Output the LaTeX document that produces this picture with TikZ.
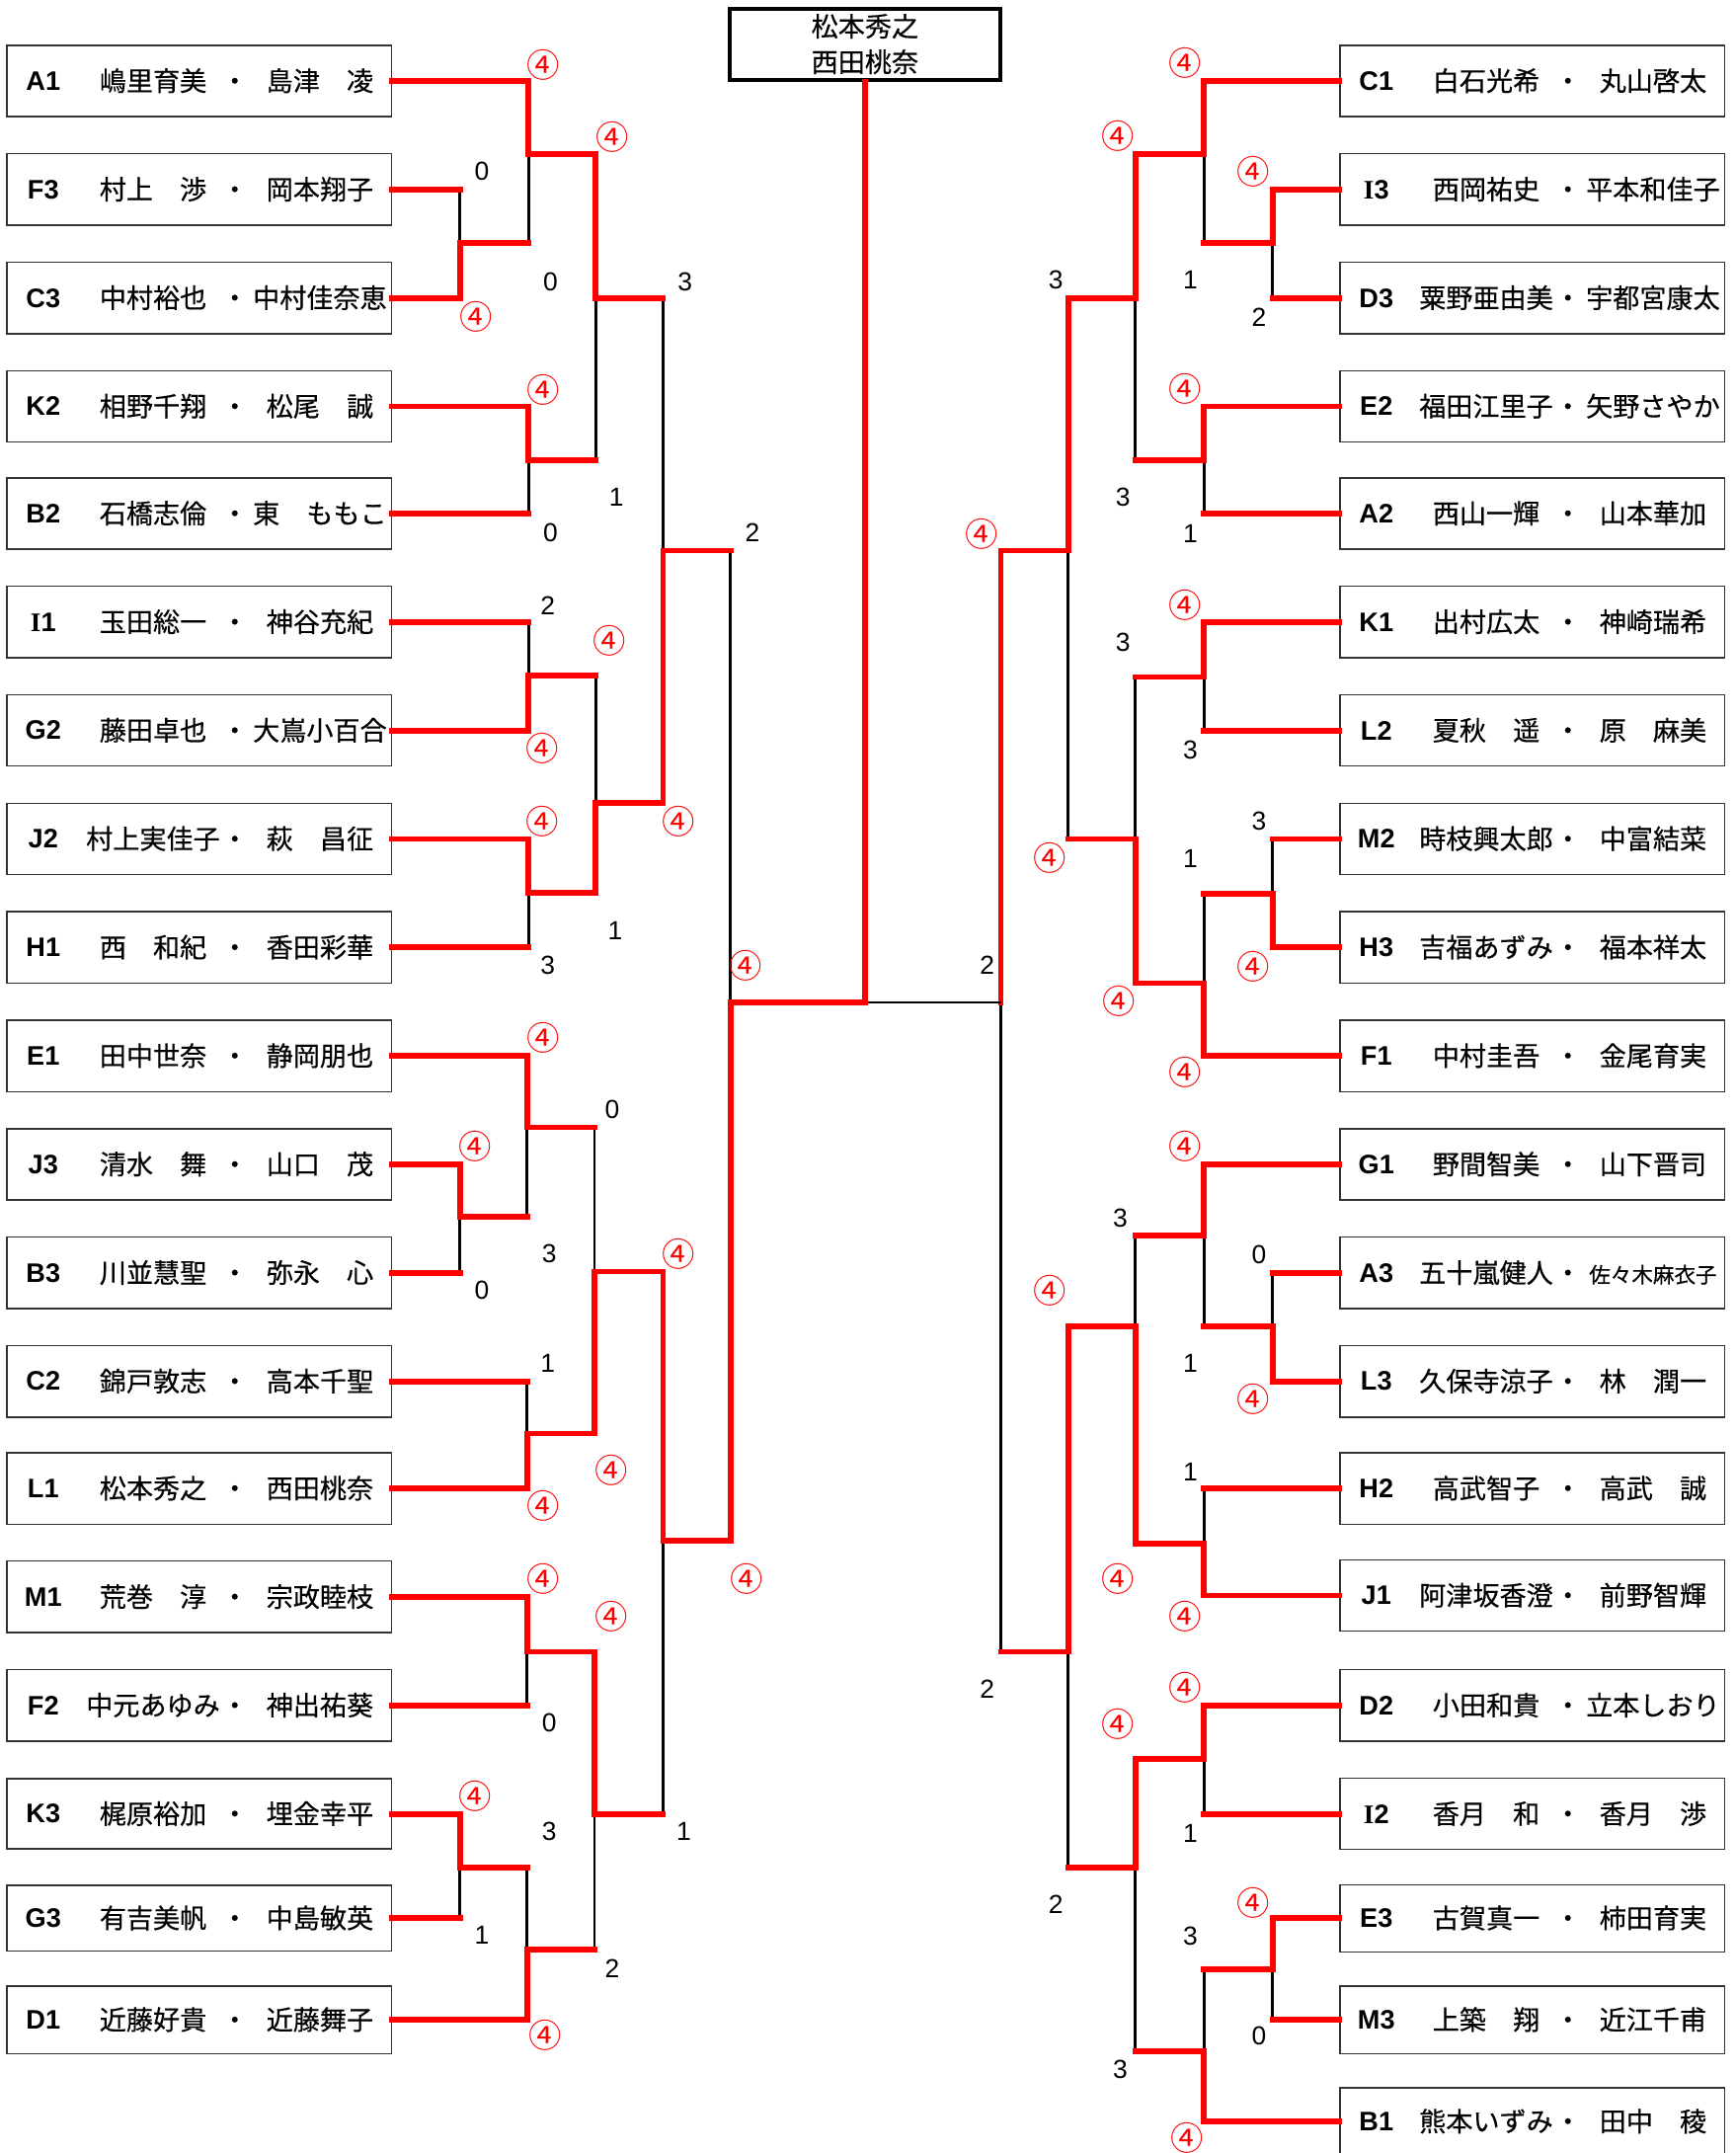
\documentclass[tikz,border=0pt]{standalone}
\usepackage{fontspec}
\newfontfamily\jp[FakeBold=0.4]{Noto Sans CJK JP}
\newfontfamily\jpw{Noto Sans CJK JP}
\newfontfamily\lat{Liberation Sans}
\newfontfamily\latser{Liberation Serif}
\newcommand\Ic{{\latser I}}
\tikzset{
 pbox/.style={draw=black!80, line width=1pt, minimum width=280pt, inner sep=0pt},
 topbox/.style={draw=black, line width=3pt, minimum width=197pt, minimum height=52pt, inner sep=0pt},
 codef/.style={inner sep=0pt, font=\lat\bfseries\fontsize{19.5}{19.5}\selectfont},
 namef/.style={inner sep=0pt, anchor=base, font=\jp\fontsize{19.5}{19.5}\selectfont},
 scoref/.style={inner sep=0pt, font=\lat\fontsize{19}{19}\selectfont},
 winf/.style={inner sep=0pt, text=red, font=\jpw\fontsize{24}{24}\selectfont},
 rl/.style={draw=red, line width=4.2pt, line cap=rect},
 blk/.style={draw=black, line width=2pt},
}
\newcommand\entry[6]{%
  \node[pbox, minimum height=#3] (#1) at #2 {};
  \node[codef] (#1c) at ([xshift=-113.5pt]#1.center) {#4};
  \node[namef] (#1n) at ([xshift=-33.5pt,yshift=-7.2pt]#1.center) {#5};
  \node[namef] (#1d) at ([xshift=26pt,yshift=-7.2pt]#1.center) {・};
  \node[namef] (#1m) at ([xshift=88pt,yshift=-7.2pt]#1.center) {#6};
}
% top wins
\newcommand\mtop[5]{%
  \coordinate (#3) at (#4,#5);
  \draw[blk] (#3) -- (#3 |- #2);
  \draw[rl] (#2) -- (#3 |- #2);
  \draw[rl] (#1) -| (#3);
}
% bottom wins
\newcommand\mbot[5]{%
  \coordinate (#3) at (#4,#5);
  \draw[blk] (#3) -- (#3 |- #1);
  \draw[rl] (#1) -- (#3 |- #1);
  \draw[rl] (#2) -| (#3);
}
\newcommand\scorelab[4]{\node[scoref] (#1) at (#2,#3) {#4};}
\newcommand\winlab[3]{\node[winf] (#1) at (#2,#3) {④};}
\begin{document}
\begin{tikzpicture}[x=1pt,y=-1pt]
\fill[white] (0,0) rectangle (1264,1568);
\clip (0,0) rectangle (1264,1568);
% ---------- left entries ----------
\entry{A1}{(145,59)}{52pt}{A1}{嶋里育美}{島津　凌}
\entry{F3}{(145,138)}{52pt}{F3}{村上　渉}{岡本翔子}
\entry{C3}{(145,217)}{52pt}{C3}{中村裕也}{中村佳奈恵}
\entry{K2}{(145,296)}{52pt}{K2}{相野千翔}{松尾　誠}
\entry{B2}{(145,374)}{52pt}{B2}{石橋志倫}{東　ももこ}
\entry{I1}{(145,453)}{52pt}{\Ic 1}{玉田総一}{神谷充紀}
\entry{G2}{(145,532)}{52pt}{G2}{藤田卓也}{大嶌小百合}
\entry{J2}{(145,611)}{52pt}{J2}{村上実佳子}{萩　昌征}
\entry{H1}{(145,690)}{52pt}{H1}{西　和紀}{香田彩華}
\entry{E1}{(145,769)}{52pt}{E1}{田中世奈}{静岡朋也}
\entry{J3}{(145,848)}{52pt}{J3}{清水　舞}{山口　茂}
\entry{B3}{(145,927)}{52pt}{B3}{川並慧聖}{弥永　心}
\entry{C2}{(145,1006)}{52pt}{C2}{錦戸敦志}{高本千聖}
\entry{L1}{(145,1084)}{52pt}{L1}{松本秀之}{西田桃奈}
\entry{M1}{(145,1163)}{52pt}{M1}{荒巻　淳}{宗政睦枝}
\entry{F2}{(145,1242)}{52pt}{F2}{中元あゆみ}{神出祐葵}
\entry{K3}{(145,1321)}{51pt}{K3}{梶原裕加}{埋金幸平}
\entry{G3}{(145,1397)}{48pt}{G3}{有吉美帆}{中島敏英}
\entry{D1}{(145,1471)}{49pt}{D1}{近藤好貴}{近藤舞子}
% ---------- right entries ----------
\entry{C1}{(1116,59)}{52pt}{C1}{白石光希}{丸山啓太}
\entry{I3}{(1116,138)}{52pt}{\Ic 3}{西岡祐史}{平本和佳子}
\entry{D3}{(1116,217)}{52pt}{D3}{粟野亜由美}{宇都宮康太}
\entry{E2}{(1116,296)}{52pt}{E2}{福田江里子}{矢野さやか}
\entry{A2}{(1116,374)}{52pt}{A2}{西山一輝}{山本華加}
\entry{K1}{(1116,453)}{52pt}{K1}{出村広太}{神崎瑞希}
\entry{L2}{(1116,532)}{52pt}{L2}{夏秋　遥}{原　麻美}
\entry{M2}{(1116,611)}{52pt}{M2}{時枝興太郎}{中富結菜}
\entry{H3}{(1116,690)}{52pt}{H3}{吉福あずみ}{福本祥太}
\entry{F1}{(1116,769)}{52pt}{F1}{中村圭吾}{金尾育実}
\entry{G1}{(1116,848)}{52pt}{G1}{野間智美}{山下晋司}
\entry{A3}{(1116,927)}{52pt}{A3}{五十嵐健人}{\fontsize{15.5}{15.5}\selectfont 佐々木麻衣子}
\entry{L3}{(1116,1006)}{52pt}{L3}{久保寺涼子}{林　潤一}
\entry{H2}{(1116,1084)}{52pt}{H2}{高武智子}{高武　誠}
\entry{J1}{(1116,1162)}{52pt}{J1}{阿津坂香澄}{前野智輝}
\entry{D2}{(1116,1242)}{52pt}{D2}{小田和貴}{立本しおり}
\entry{I2}{(1116,1321)}{52pt}{\Ic 2}{香月　和}{香月　渉}
\entry{E3}{(1116,1397)}{49pt}{E3}{古賀真一}{柿田育実}
\entry{M3}{(1116,1471)}{49pt}{M3}{上築　翔}{近江千甫}
\entry{B1}{(1116,1545)}{49pt}{B1}{熊本いずみ}{田中　稜}
% ---------- champion box ----------
\node[topbox] (top) at (630,32.5) {};
\node[namef] (top1) at (630,26.5) {松本秀之};
\node[namef] (top2) at (630,52.5) {西田桃奈};
% ---------- left bracket ----------
\mbot{F3.east}{C3.east}{l1}{335}{177}
\mtop{A1.east}{l1}{l2}{385}{112}
\mtop{K2.east}{B2.east}{l3}{385}{335}
\mtop{l2}{l3}{l4}{434}{217}
\mbot{I1.east}{G2.east}{l5}{385}{492}
\mtop{J2.east}{H1.east}{l6}{385}{650}
\mbot{l5}{l6}{l7}{434}{585}
\mbot{l4}{l7}{l8}{483}{401}
\mtop{J3.east}{B3.east}{l9}{335}{886}
\mtop{E1.east}{l9}{l10}{384}{821}
\mbot{C2.east}{L1.east}{l11}{384}{1044}
\mbot{l10}{l11}{l12}{433}{926}
\mtop{M1.east}{F2.east}{l13}{384}{1203}
\mtop{K3.east}{G3.east}{l14}{335}{1360}
\mbot{l14}{D1.east}{l15}{384}{1420}
\mtop{l13}{l15}{l16}{433}{1321}
\mtop{l12}{l16}{l17}{483}{1122}
\mbot{l8}{l17}{l18}{532}{730}
% ---------- right bracket ----------
\mtop{I3.west}{D3.west}{r1}{927}{177}
\mtop{C1.west}{r1}{r2}{877}{112}
\mtop{E2.west}{A2.west}{r3}{877}{335}
\mtop{r2}{r3}{r4}{827}{217}
\mtop{K1.west}{L2.west}{r5}{877}{493}
\mbot{M2.west}{H3.west}{r6}{927}{651}
\mbot{r6}{F1.west}{r7}{877}{716}
\mbot{r5}{r7}{r8}{827}{611}
\mtop{r4}{r8}{r9}{778}{401}
\mbot{A3.west}{L3.west}{r10}{927}{966}
\mtop{G1.west}{r10}{r11}{877}{900}
\mbot{H2.west}{J1.west}{r12}{877}{1124}
\mbot{r11}{r12}{r13}{827}{966}
\mtop{D2.west}{I2.west}{r14}{877}{1281}
\mtop{E3.west}{M3.west}{r15}{927}{1434}
\mbot{r15}{B1.west}{r16}{877}{1494}
\mtop{r14}{r16}{r17}{827}{1360}
\mtop{r13}{r17}{r18}{778}{1203}
\mtop{r9}{r18}{r19}{729}{730}
% ---------- final ----------
\draw[blk] (r19) -- (top.south |- r19);
\draw[rl] (l18) -| (top.south);
% ---------- left labels ----------
\winlab{wl1}{396}{47}
\winlab{wl2}{446}{100}
\winlab{wl3}{347}{231}
\winlab{wl4}{396}{284}
\winlab{wl5}{444}{467}
\winlab{wl6}{395}{545}
\winlab{wl7}{395}{598}
\winlab{wl8}{494}{598}
\winlab{wl9}{543}{703}
\winlab{wl10}{396}{756}
\winlab{wl11}{346}{835}
\winlab{wl12}{494}{913}
\winlab{wl13}{445}{1071}
\winlab{wl14}{396}{1097}
\winlab{wl15}{396}{1150}
\winlab{wl16}{544}{1150}
\winlab{wl17}{445}{1177}
\winlab{wl18}{346}{1308}
\winlab{wl19}{397}{1482}
\scorelab{sl1}{351}{125}{0}
\scorelab{sl2}{401}{205}{0}
\scorelab{sl3}{499}{205}{3}
\scorelab{sl4}{449}{362}{1}
\scorelab{sl5}{401}{388}{0}
\scorelab{sl6}{548}{388}{2}
\scorelab{sl7}{399}{441}{2}
\scorelab{sl8}{448}{678}{1}
\scorelab{sl9}{399}{703}{3}
\scorelab{sl10}{446}{808}{0}
\scorelab{sl11}{400}{913}{3}
\scorelab{sl12}{351}{940}{0}
\scorelab{sl13}{399}{993}{1}
\scorelab{sl14}{400}{1255}{0}
\scorelab{sl15}{400}{1334}{3}
\scorelab{sl16}{498}{1334}{1}
\scorelab{sl17}{351}{1409}{1}
\scorelab{sl18}{446}{1434}{2}
% ---------- right labels ----------
\winlab{wr1}{863}{46}
\winlab{wr2}{814}{99}
\winlab{wr3}{913}{125}
\winlab{wr4}{863}{283}
\winlab{wr5}{715}{389}
\winlab{wr6}{863}{441}
\winlab{wr7}{765}{625}
\winlab{wr8}{913}{704}
\winlab{wr9}{815}{729}
\winlab{wr10}{863}{781}
\winlab{wr11}{863}{835}
\winlab{wr12}{765}{940}
\winlab{wr13}{913}{1019}
\winlab{wr14}{814}{1150}
\winlab{wr15}{863}{1177}
\winlab{wr16}{863}{1229}
\winlab{wr17}{814}{1256}
\winlab{wr18}{913}{1386}
\winlab{wr19}{865}{1557}
\scorelab{sr1}{769}{204}{3}
\scorelab{sr2}{867}{204}{1}
\scorelab{sr3}{917}{231}{2}
\scorelab{sr4}{818}{362}{3}
\scorelab{sr5}{867}{389}{1}
\scorelab{sr6}{818}{468}{3}
\scorelab{sr7}{867}{546}{3}
\scorelab{sr8}{917}{598}{3}
\scorelab{sr9}{867}{625}{1}
\scorelab{sr10}{719}{703}{2}
\scorelab{sr11}{816}{887}{3}
\scorelab{sr12}{917}{914}{0}
\scorelab{sr13}{867}{993}{1}
\scorelab{sr14}{867}{1072}{1}
\scorelab{sr15}{719}{1230}{2}
\scorelab{sr16}{867}{1335}{1}
\scorelab{sr17}{769}{1387}{2}
\scorelab{sr18}{867}{1410}{3}
\scorelab{sr19}{917}{1483}{0}
\scorelab{sr20}{816}{1507}{3}
\end{tikzpicture}
\end{document}
